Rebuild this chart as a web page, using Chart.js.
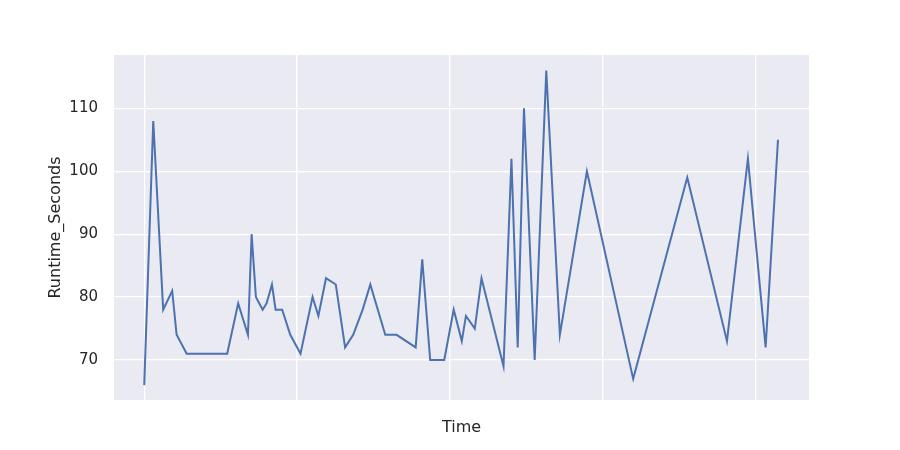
<!DOCTYPE html>
<html>
<head>
<meta charset="utf-8">
<script src="https://cdn.jsdelivr.net/npm/chart.js@4.4.1/dist/chart.umd.min.js"></script>
<style>
  html, body { margin: 0; padding: 0; background: #ffffff; }
  #wrap { width: 900px; height: 450px; }
</style>
</head>
<body>
<div id="wrap"><canvas id="chart" width="900" height="450"></canvas></div>
<script>
// Time positions (axis units, one grid step = 1) and runtime values
const times = [
  0, 0.059, 0.124, 0.183, 0.212, 0.278, 0.543, 0.615, 0.679, 0.703,
  0.731, 0.775, 0.801, 0.836, 0.860, 0.903, 0.956, 1.023, 1.102, 1.140,
  1.190, 1.254, 1.315, 1.368, 1.430, 1.480, 1.578, 1.652, 1.777, 1.820,
  1.872, 1.964, 2.026, 2.079, 2.106, 2.164, 2.208, 2.352, 2.404, 2.445,
  2.486, 2.556, 2.632, 2.721, 2.898, 3.201, 3.555, 3.815, 3.952, 4.068,
  4.149
];
const runtimeSeconds = [
  66, 108, 78, 81, 74, 71, 71, 79, 74, 90,
  80, 78, 79, 82, 78, 78, 74, 71, 80, 77,
  83, 82, 72, 74, 78, 82, 74, 74, 72, 86,
  70, 70, 78, 73, 77, 75, 83, 69, 102, 72,
  110, 70, 116, 74, 100, 67, 99, 73, 102, 72,
  105
];
const yTicks = [70, 80, 90, 100, 110];

const textColor = "#262626";
const fontFamily = "'DejaVu Sans', sans-serif";

// Paint the seaborn-style grey panel behind the plot
const panelBackground = {
  id: "panelBackground",
  beforeDraw(chart) {
    const { ctx, chartArea } = chart;
    ctx.save();
    ctx.fillStyle = "#eaeaf2";
    ctx.fillRect(chartArea.left, chartArea.top,
      chartArea.right - chartArea.left, chartArea.bottom - chartArea.top);
    ctx.restore();
  },
};

new Chart(document.getElementById("chart"), {
  type: "line",
  data: {
    datasets: [{
      label: "Runtime_Seconds",
      data: times.map((t, i) => ({ x: t, y: runtimeSeconds[i] })),
      borderColor: "#4c72b0",
      borderWidth: 2,
      pointRadius: 0,
      tension: 0,
      fill: false,
    }],
  },
  options: {
    responsive: false,
    animation: false,
    devicePixelRatio: 1,
    layout: { padding: { left: 0, top: 55, right: 91, bottom: 0 } },
    plugins: {
      legend: { display: false },
      tooltip: { enabled: false },
    },
    scales: {
      x: {
        type: "linear",
        min: -0.198,
        max: 4.352,
        afterFit: (scale) => { scale.height = 50; },
        border: { display: false },
        grid: { color: "#ffffff", lineWidth: 1.3, drawTicks: false },
        ticks: { display: false, stepSize: 1, includeBounds: false },
        title: {
          display: true,
          text: "Time",
          color: textColor,
          font: { family: fontFamily, size: 16 },
          padding: { top: 0, bottom: 13 },
        },
      },
      y: {
        type: "linear",
        min: 63.64,
        max: 118.48,
        afterFit: (scale) => { scale.width = 114; },
        afterBuildTicks: (scale) => {
          scale.ticks = yTicks.map((v) => ({ value: v }));
        },
        border: { display: false },
        grid: { color: "#ffffff", lineWidth: 1.3, drawTicks: false },
        ticks: {
          color: textColor,
          padding: 16,
          font: { family: fontFamily, size: 15 },
        },
        title: {
          display: true,
          text: "Runtime_Seconds",
          color: textColor,
          font: { family: fontFamily, size: 16 },
          padding: { top: 46, bottom: 0 },
        },
      },
    },
  },
  plugins: [panelBackground],
});
</script>
</body>
</html>
